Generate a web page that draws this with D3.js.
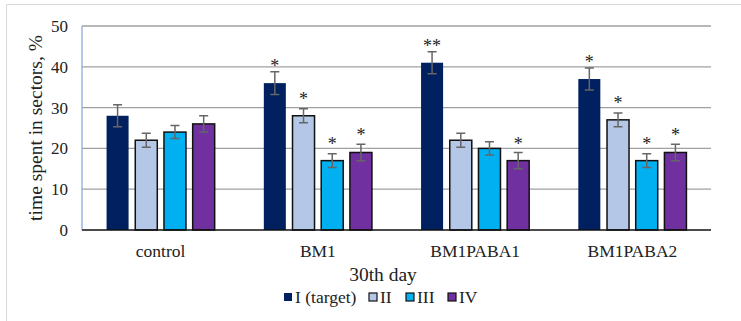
<!DOCTYPE html>
<html>
<head>
<meta charset="utf-8">
<script src="https://cdn.jsdelivr.net/npm/d3@7"></script>
<style>
  body { margin: 0; background: #fff; }
  svg text { font-family: "Liberation Serif", "Times New Roman", serif; fill: #222; }
</style>
</head>
<body>
<svg id="chart" width="741" height="321"></svg>
<script>
// groups on the x axis
var groups = ["control", "BM1", "BM1PABA1", "BM1PABA2"];
// sectors (series)
var sectors = ["I (target)", "II", "III", "IV"];
var colors = ["#002060", "#b4c7e7", "#00b0f0", "#7030a0"];
// mean time per sector, % (one array per group)
var controlVals = [28, 22, 24, 26];
var bm1Vals = [36, 28, 17, 19];
var paba1Vals = [41, 22, 20, 17];
var paba2Vals = [37, 27, 17, 19];
// error bar half widths
var controlErr = [2.7, 1.7, 1.6, 2.0];
var bm1Err = [2.8, 1.7, 1.7, 2.0];
var paba1Err = [2.7, 1.7, 1.6, 2.0];
var paba2Err = [2.7, 1.7, 1.7, 2.0];
// significance marks
var controlSig = ["", "", "", ""];
var bm1Sig = ["*", "*", "*", "*"];
var paba1Sig = ["**", "", "", "*"];
var paba2Sig = ["*", "*", "*", "*"];
var yTicks = [0, 10, 20, 30, 40, 50];

var values = [controlVals, bm1Vals, paba1Vals, paba2Vals];
var errors = [controlErr, bm1Err, paba1Err, paba2Err];
var sigs = [controlSig, bm1Sig, paba1Sig, paba2Sig];

var rows = [];
groups.forEach(function(g, gi) {
	sectors.forEach(function(s, si) {
		rows.push({group: g, sector: s, si: si, value: values[gi][si], err: errors[gi][si], sig: sigs[gi][si]});
	});
});

var svg = d3.select("#chart");
var plotL = 82, plotR = 711, plotT = 26, plotB = 230;

// frame
svg.append("path")
	.attr("d", "M6.5,321 L6.5,4.5 L741,4.5")
	.attr("fill", "none")
	.attr("stroke", "#d9d9d9")
	.attr("stroke-width", 1);

var y = d3.scaleLinear().domain([0, 50]).range([plotB, plotT]);
var x0 = d3.scaleBand().domain(groups).range([plotL, plotR]);
var innerW = 4 * 28.7;
var x1 = d3.scaleBand().domain(sectors)
	.range([(x0.bandwidth() - innerW) / 2, (x0.bandwidth() + innerW) / 2])
	.paddingInner(0.233).paddingOuter(0.1165);
var color = d3.scaleOrdinal().domain(sectors).range(colors);

// grid
svg.append("g").selectAll("line").data(yTicks.filter(function(d) { return d > 0; }))
	.enter().append("line")
	.attr("x1", plotL).attr("x2", plotR)
	.attr("y1", function(d) { return y(d); }).attr("y2", function(d) { return y(d); })
	.attr("stroke", "#a0a0a0").attr("stroke-width", 1.3);

// y axis
var yAxis = svg.append("g")
	.attr("transform", "translate(" + plotL + ",0)")
	.call(d3.axisLeft(y).tickValues(yTicks).tickSize(0).tickPadding(14));
yAxis.attr("font-family", null).attr("font-size", null);
yAxis.select(".domain").remove();
yAxis.selectAll("text").style("font-size", "17px").attr("fill", "#222");
svg.append("line")
	.attr("x1", plotL).attr("x2", plotL).attr("y1", plotT).attr("y2", plotB)
	.attr("stroke", "#8eaadb").attr("stroke-width", 1.3);

svg.append("text")
	.attr("transform", "translate(42," + (plotT + plotB) / 2 + ") rotate(-90)")
	.attr("text-anchor", "middle")
	.style("font-size", "19.5px")
	.text("time spent in sectors, %");

// bars
var bar = svg.append("g").selectAll("g").data(rows).enter().append("g")
	.attr("transform", function(d) { return "translate(" + (x0(d.group) + x1(d.sector)) + ",0)"; });

bar.append("rect")
	.attr("x", 0)
	.attr("width", x1.bandwidth())
	.attr("y", function(d) { return y(d.value); })
	.attr("height", function(d) { return y(0) - y(d.value); })
	.attr("fill", function(d) { return color(d.sector); })
	.attr("stroke", function(d) { return d.si == 0 ? "none" : "#111"; })
	.attr("stroke-width", 1.5);

var cx = x1.bandwidth() / 2;
bar.append("path")
	.attr("d", function(d) {
		var t = y(d.value + d.err), b = y(d.value - d.err);
		return "M" + (cx - 4.5) + "," + t + "H" + (cx + 4.5) +
			"M" + cx + "," + t + "V" + b +
			"M" + (cx - 4.5) + "," + b + "H" + (cx + 4.5);
	})
	.attr("fill", "none")
	.attr("stroke", "#666")
	.attr("stroke-width", 1.5);

bar.append("text")
	.attr("x", cx)
	.attr("y", function(d) { return y(d.value) - 11; })
	.attr("text-anchor", "middle")
	.style("font-size", "18px")
	.text(function(d) { return d.sig; });

// baseline
svg.append("line")
	.attr("x1", plotL).attr("x2", plotR).attr("y1", y(0)).attr("y2", y(0))
	.attr("stroke", "#111").attr("stroke-width", 1.5);

// x axis labels
var xAxis = svg.append("g")
	.attr("transform", "translate(0," + plotB + ")")
	.call(d3.axisBottom(x0).tickSize(0).tickPadding(15));
xAxis.attr("font-family", null).attr("font-size", null);
xAxis.select(".domain").remove();
xAxis.selectAll("text").style("font-size", "17.5px").attr("fill", "#222");

svg.append("text")
	.attr("x", 383).attr("y", 281)
	.attr("text-anchor", "middle")
	.style("font-size", "19.5px")
	.text("30th day");

// legend
var legendX = [284, 369, 406, 448];
var leg = svg.append("g").selectAll("g").data(sectors).enter().append("g")
	.attr("transform", function(d, i) { return "translate(" + legendX[i] + ",293)"; });
leg.append("rect")
	.attr("width", 8).attr("height", 8)
	.attr("fill", function(d) { return color(d); })
	.attr("stroke", function(d, i) { return i == 0 ? "none" : "#111"; })
	.attr("stroke-width", 1.2);
leg.append("text")
	.attr("x", 11).attr("y", 9.5)
	.style("font-size", "17.5px")
	.text(function(d) { return d; });
</script>
</body>
</html>
